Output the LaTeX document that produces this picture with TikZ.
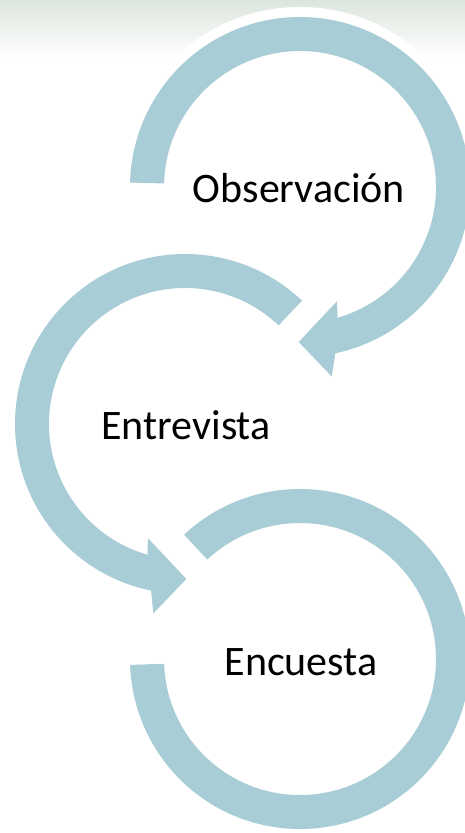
\documentclass[tikz,border=0pt]{standalone}
\usepackage{fontspec}
\setmainfont{Carlito}
\definecolor{arrowblue}{RGB}{169,205,214}
\definecolor{bgtop}{RGB}{220,230,221}
\begin{document}
\begin{tikzpicture}[x=1pt,y=1pt,
  arrowshape/.style={fill=arrowblue,preaction={draw=white,line width=20pt,line join=round}},
  steplabel/.style={font=\fontsize{42}{50}\selectfont,text=black,inner sep=0pt,anchor=base}]
\useasboundingbox (0,0) rectangle (465,-833);
\clip (0,0) rectangle (465,-833);
\shade[top color=bgtop,bottom color=white] (0,0) rectangle (465,-58);
% arrow 1 (Observacion), clockwise
\begin{scope}[shift={(300,-187)}]
  \path[arrowshape] (178.5:170) arc[start angle=178.5,end angle=-78,radius=170]
    -- (-80.5:192) -- (-90.5:155) -- (-72:120) -- (-74:136)
    arc[start angle=-74,end angle=178.5,radius=136] -- cycle;
\end{scope}
% arrow 2 (Entrevista), counter-clockwise
\begin{scope}[shift={(185,-424)}]
  \path[arrowshape] (46.5:170) arc[start angle=46.5,end angle=258.5,radius=170]
    -- (260.5:192) -- (270.5:155) -- (252:120) -- (254:136)
    arc[start angle=254,end angle=46.5,radius=136] -- cycle;
\end{scope}
% arrow 3 (Encuesta), clockwise
\begin{scope}[shift={(300,-659)}]
  \path[arrowshape] (133:170) arc[start angle=133,end angle=-178,radius=170]
    -- (-178:136) arc[start angle=-178,end angle=133,radius=136] -- cycle;
\end{scope}
\node[steplabel] (obs) at (299,-202) {Observación};
\node[steplabel] (ent) at (186,-439) {Entrevista};
\node[steplabel] (enc) at (301,-675) {Encuesta};
\end{tikzpicture}
\end{document}
